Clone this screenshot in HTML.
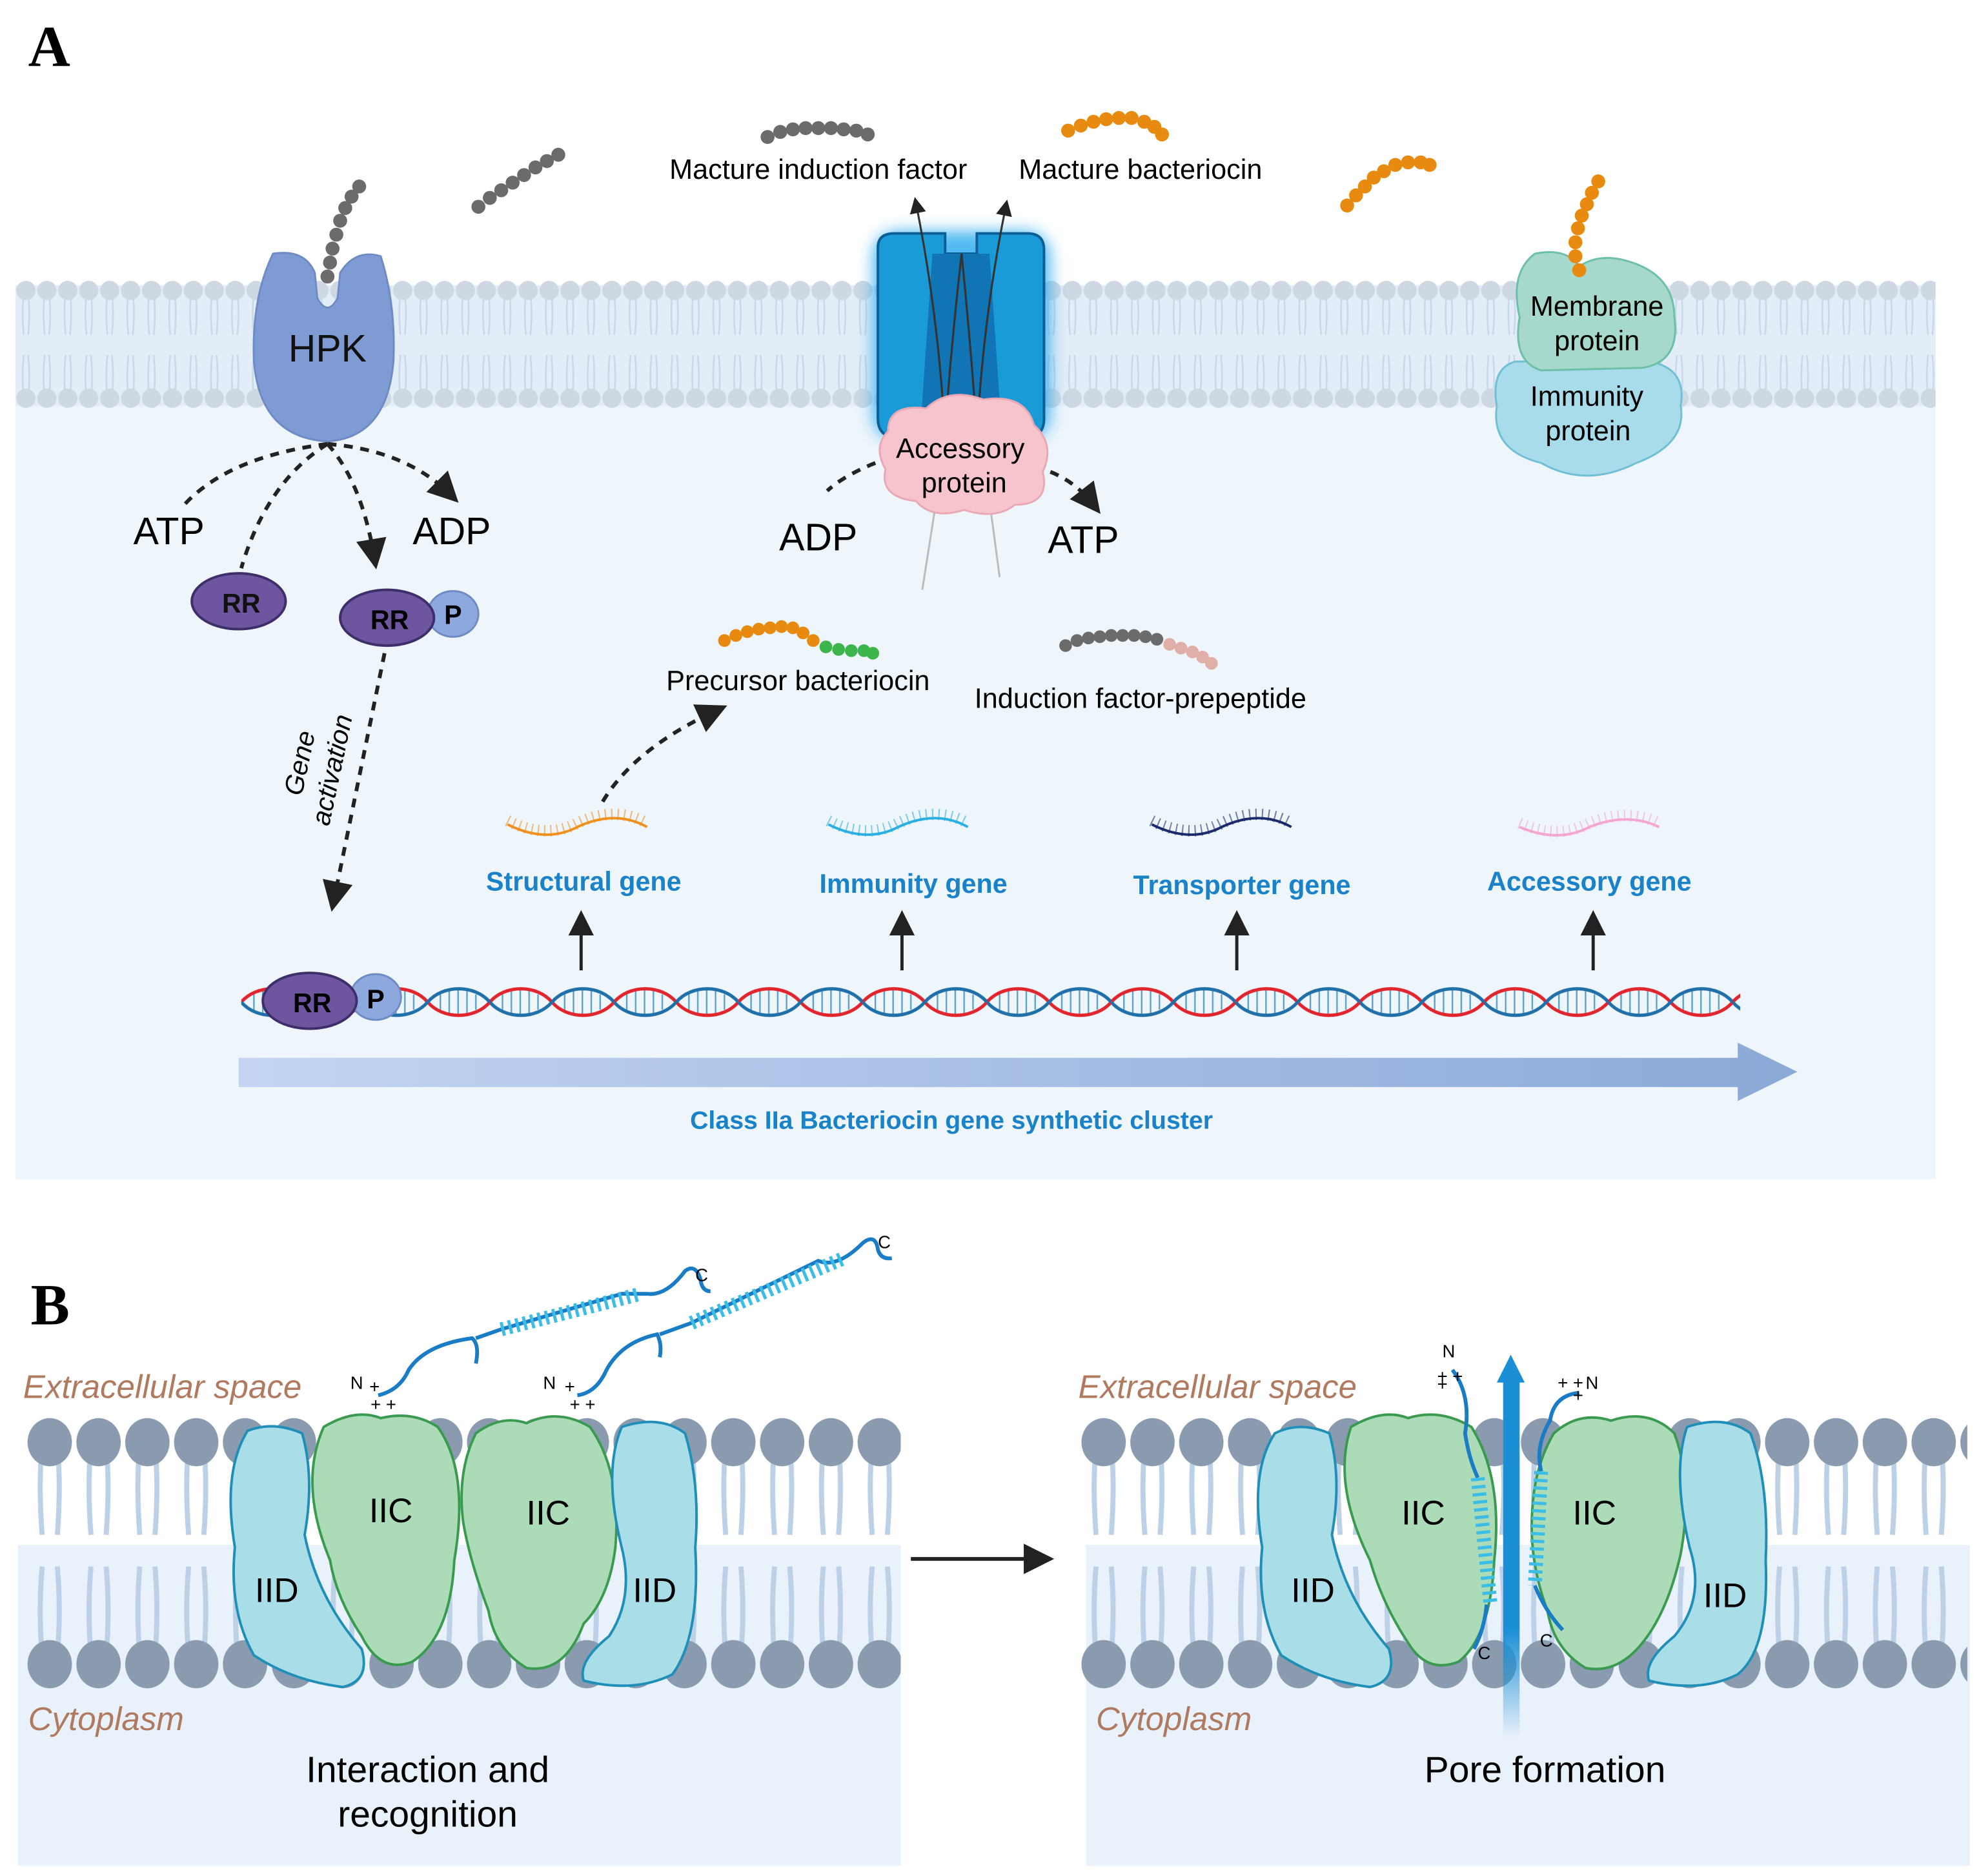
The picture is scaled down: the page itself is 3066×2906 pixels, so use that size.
<!DOCTYPE html>
<html><head><meta charset="utf-8"><style>
html,body{margin:0;padding:0;background:#fff}
svg{display:block}
text{font-family:"Liberation Sans",sans-serif}
</style></head><body>
<svg width="3066" height="2906" viewBox="0 0 1560 1479" xmlns="http://www.w3.org/2000/svg">
<defs>
<pattern id="memA" x="12" y="220" width="16.5" height="105" patternUnits="userSpaceOnUse">
<path d="M6 16 Q5 30 6.5 44 M10.5 16 Q11.5 30 10 44 M6.5 60 Q5 75 6 88 M10 60 Q11.5 75 10.5 88" stroke="#c9d8e8" stroke-width="1.3" fill="none"/>
<circle cx="8.25" cy="9" r="7.6" fill="#cdd8e3"/>
<circle cx="8.25" cy="94" r="7.6" fill="#cdd8e3"/>
</pattern>
<pattern id="memB" x="20" y="1110" width="38.5" height="230" patternUnits="userSpaceOnUse">
<path d="M13 30 Q10 60 13 100 M25 30 Q28 60 25 100 M13 125 Q10 160 13 195 M25 125 Q28 160 25 195" stroke="#bcd0e6" stroke-width="4" fill="none"/>
<ellipse cx="19" cy="27" rx="17.5" ry="19" fill="#8a9bb0"/>
<ellipse cx="19" cy="202" rx="17.5" ry="19" fill="#8a9bb0"/>
</pattern>
<pattern id="memB2" x="851" y="1110" width="38.5" height="230" patternUnits="userSpaceOnUse">
<path d="M13 30 Q10 60 13 100 M25 30 Q28 60 25 100 M13 125 Q10 160 13 195 M25 125 Q28 160 25 195" stroke="#bcd0e6" stroke-width="4" fill="none"/>
<ellipse cx="19" cy="27" rx="17.5" ry="19" fill="#8a9bb0"/>
<ellipse cx="19" cy="202" rx="17.5" ry="19" fill="#8a9bb0"/>
</pattern>
<pattern id="dna" x="190" y="770" width="98" height="40" patternUnits="userSpaceOnUse">
<g stroke="#5aa0c8" stroke-width="1.2"><line x1="10" y1="14" x2="10" y2="26"/><line x1="17" y1="11" x2="17" y2="29"/><line x1="24" y1="10" x2="24" y2="30"/><line x1="31" y1="11" x2="31" y2="29"/><line x1="38" y1="14" x2="38" y2="26"/><line x1="59" y1="14" x2="59" y2="26"/><line x1="66" y1="11" x2="66" y2="29"/><line x1="73" y1="10" x2="73" y2="30"/><line x1="80" y1="11" x2="80" y2="29"/><line x1="87" y1="14" x2="87" y2="26"/></g>
<path d="M0 20 C12 6 37 6 49 20 S86 34 98 20" stroke="#e2242c" stroke-width="2.6" fill="none"/>
<path d="M0 20 C12 34 37 34 49 20 S86 6 98 20" stroke="#1f6fa8" stroke-width="2.6" fill="none"/>
</pattern>
<linearGradient id="arr" x1="0" x2="1"><stop offset="0" stop-color="#c4d4f2"/><stop offset="1" stop-color="#8ba9d8"/></linearGradient>
<filter id="glow" x="-30%" y="-30%" width="160%" height="160%"><feGaussianBlur stdDeviation="6"/></filter>
<marker id="ah" markerWidth="8" markerHeight="8" refX="5" refY="4" orient="auto" markerUnits="strokeWidth"><path d="M0 0 L8 4 L0 8 Z" fill="#222"/></marker>
<linearGradient id="pore" x1="0" y1="1" x2="0" y2="0"><stop offset="0" stop-color="#1a8fd6" stop-opacity="0"/><stop offset="0.3" stop-color="#1a8fd6"/><stop offset="1" stop-color="#1a8fd6"/></linearGradient>
</defs>

<!-- Panel A -->
<text x="22" y="52" style="font-family:'Liberation Serif',serif;font-weight:bold;font-size:46px">A</text>
<rect x="12" y="230" width="1514" height="700" fill="#eef5fb"/>
<rect x="12" y="225" width="1514" height="95" fill="#e2edf7"/>
<rect x="12" y="220" width="1514" height="105" fill="url(#memA)"/>

<!-- HPK -->
<path d="M215 200 Q240 196 248 215 L250 235 Q258 250 266 235 L268 215 Q280 196 300 202 Q312 240 310 285 Q305 345 258 348 Q205 345 200 285 Q198 235 215 200Z" fill="#7f9bd3" stroke="#6f8bc4" stroke-width="1.5"/>
<text x="258" y="285" font-size="30" text-anchor="middle" fill="#111">HPK</text>
<g fill="#6b6b6b"><circle cx="258" cy="218" r="5.5"/><circle cx="260" cy="207" r="5.5"/><circle cx="262" cy="196" r="5.5"/><circle cx="265" cy="185" r="5.5"/><circle cx="268" cy="174" r="5.5"/><circle cx="272" cy="164" r="5.5"/><circle cx="277" cy="155" r="5.5"/><circle cx="283" cy="147" r="5.5"/></g>
<g fill="#6b6b6b"><circle cx="377" cy="163" r="5.5"/><circle cx="386" cy="156" r="5.5"/><circle cx="395" cy="150" r="5.5"/><circle cx="404" cy="144" r="5.5"/><circle cx="413" cy="138" r="5.5"/><circle cx="422" cy="132" r="5.5"/><circle cx="431" cy="127" r="5.5"/><circle cx="440" cy="122" r="5.5"/></g>

<g stroke="#222" stroke-width="3" stroke-dasharray="7 6" fill="none">
<path d="M258 350 Q180 360 145 398"/>
<path d="M258 350 Q210 380 190 448"/>
<path d="M258 350 Q285 380 295 440" marker-end="url(#ah)"/>
<path d="M258 350 Q320 355 355 390" marker-end="url(#ah)"/>
<path d="M303 515 L263 710" marker-end="url(#ah)"/>
<path d="M475 632 Q500 590 565 560" marker-end="url(#ah)"/>
<path d="M690 365 Q665 375 652 387"/>
<path d="M828 372 Q848 380 862 398" marker-end="url(#ah)"/>
</g>
<text x="133" y="429" font-size="30" text-anchor="middle">ATP</text>
<text x="356" y="429" font-size="30" text-anchor="middle">ADP</text>
<ellipse cx="188" cy="474" rx="37" ry="22" fill="#6e559f" stroke="#3e2f6b" stroke-width="2"/>
<text x="190" y="483" font-size="21" font-weight="bold" text-anchor="middle" fill="#111">RR</text>
<ellipse cx="357" cy="484" rx="20" ry="18" fill="#8da8dd" stroke="#6f8bc4" stroke-width="1.5"/>
<text x="357" y="492" font-size="21" font-weight="bold" text-anchor="middle">P</text>
<ellipse cx="305" cy="487" rx="37" ry="22" fill="#6e559f" stroke="#3e2f6b" stroke-width="2"/>
<text x="307" y="496" font-size="21" font-weight="bold" text-anchor="middle">RR</text>
<text transform="translate(243 603) rotate(-78)" font-size="21" font-style="italic" text-anchor="middle">Gene<tspan x="0" dy="26">activation</tspan></text>

<!-- transporter -->
<rect x="688" y="182" width="140" height="165" rx="20" fill="#27a9ef" filter="url(#glow)" opacity="0.8"/>
<path d="M692 195 Q692 184 705 184 L745 184 L745 200 L770 200 L770 184 L810 184 Q823 184 823 197 L823 330 Q823 345 808 345 L708 345 Q692 345 692 330Z" fill="#1a9bd8" stroke="#0c5f96" stroke-width="2"/>
<path d="M735 200 L780 200 L790 345 L725 345Z" fill="#1174b5"/>
<g stroke="#333" stroke-width="1.6" fill="none"><path d="M745 345 Q740 250 722 160" marker-end="url(#ah)"/><path d="M770 345 Q775 250 793 162" marker-end="url(#ah)"/><path d="M745 340 Q750 270 758 200"/><path d="M770 340 Q765 270 758 200"/></g>
<path d="M738 395 L727 465 M780 395 L788 455" stroke="#bbb" stroke-width="1.5"/>
<path d="M700 340 Q700 318 730 322 Q748 305 775 315 Q808 310 815 335 Q832 350 822 372 Q828 398 800 398 Q785 410 760 402 Q735 410 722 395 Q693 392 698 370 Q688 352 700 340Z" fill="#f6c4cd" stroke="#eaa8b5" stroke-width="1.5"/>
<text x="757" y="361" font-size="22" text-anchor="middle">Accessory</text>
<text x="760" y="388" font-size="22" text-anchor="middle">protein</text>
<text x="645" y="434" font-size="30" text-anchor="middle">ADP</text>
<text x="854" y="436" font-size="30" text-anchor="middle">ATP</text>

<g fill="#6b6b6b"><circle cx="605" cy="108" r="5.5"/><circle cx="615" cy="104" r="5.5"/><circle cx="625" cy="102" r="5.5"/><circle cx="635" cy="101" r="5.5"/><circle cx="645" cy="101" r="5.5"/><circle cx="655" cy="101" r="5.5"/><circle cx="665" cy="102" r="5.5"/><circle cx="675" cy="103" r="5.5"/><circle cx="684" cy="106" r="5.5"/></g>
<text x="645" y="141" font-size="22" text-anchor="middle">Macture induction factor</text>
<g fill="#e88a0f"><circle cx="842" cy="103" r="5.5"/><circle cx="852" cy="99" r="5.5"/><circle cx="862" cy="96" r="5.5"/><circle cx="872" cy="94" r="5.5"/><circle cx="882" cy="93" r="5.5"/><circle cx="892" cy="93" r="5.5"/><circle cx="902" cy="96" r="5.5"/><circle cx="910" cy="100" r="5.5"/><circle cx="916" cy="106" r="5.5"/></g>
<text x="899" y="141" font-size="22" text-anchor="middle">Macture bacteriocin</text>
<g fill="#e88a0f"><circle cx="1062" cy="162" r="5.5"/><circle cx="1069" cy="154" r="5.5"/><circle cx="1076" cy="147" r="5.5"/><circle cx="1083" cy="140" r="5.5"/><circle cx="1091" cy="135" r="5.5"/><circle cx="1100" cy="130" r="5.5"/><circle cx="1110" cy="128" r="5.5"/><circle cx="1120" cy="128" r="5.5"/><circle cx="1127" cy="130" r="5.5"/></g>

<!-- membrane/immunity protein -->
<path d="M1195 285 Q1175 290 1180 320 Q1175 355 1215 365 Q1250 385 1290 365 Q1330 350 1325 320 Q1330 290 1300 285Z" fill="#a8dcea" stroke="#6fbfd6" stroke-width="1.5"/>
<path d="M1210 200 Q1235 195 1245 210 Q1260 200 1280 205 Q1320 215 1320 250 Q1325 285 1295 290 L1215 292 Q1192 285 1198 250 Q1190 215 1210 200Z" fill="#a6d8cc" stroke="#6cbfa8" stroke-width="1.5"/>
<g fill="#e88a0f"><circle cx="1245" cy="213" r="5.5"/><circle cx="1242" cy="202" r="5.5"/><circle cx="1242" cy="191" r="5.5"/><circle cx="1244" cy="180" r="5.5"/><circle cx="1247" cy="170" r="5.5"/><circle cx="1251" cy="161" r="5.5"/><circle cx="1255" cy="152" r="5.5"/><circle cx="1260" cy="143" r="5.5"/></g>
<text x="1259" y="249" font-size="22" text-anchor="middle">Membrane</text>
<text x="1259" y="276" font-size="22" text-anchor="middle">protein</text>
<text x="1251" y="320" font-size="22" text-anchor="middle">Immunity</text>
<text x="1252" y="347" font-size="22" text-anchor="middle">protein</text>

<!-- precursors -->
<g fill="#e88a0f"><circle cx="571" cy="505" r="5"/><circle cx="580" cy="501" r="5"/><circle cx="589" cy="498" r="5"/><circle cx="598" cy="496" r="5"/><circle cx="607" cy="495" r="5"/><circle cx="616" cy="494" r="5"/><circle cx="625" cy="495" r="5"/><circle cx="633" cy="499" r="5"/><circle cx="641" cy="505" r="5"/></g>
<g fill="#3cb54a"><circle cx="651" cy="510" r="5"/><circle cx="661" cy="512" r="5"/><circle cx="671" cy="513" r="5"/><circle cx="681" cy="513" r="5"/><circle cx="688" cy="515" r="5"/></g>
<text x="629" y="544" font-size="22" text-anchor="middle">Precursor bacteriocin</text>
<g fill="#6b6b6b"><circle cx="840" cy="509" r="5"/><circle cx="849" cy="505" r="5"/><circle cx="858" cy="503" r="5"/><circle cx="867" cy="502" r="5"/><circle cx="876" cy="501" r="5"/><circle cx="885" cy="501" r="5"/><circle cx="894" cy="501" r="5"/><circle cx="903" cy="502" r="5"/><circle cx="912" cy="504" r="5"/></g>
<g fill="#e0b0a8"><circle cx="922" cy="508" r="5"/><circle cx="931" cy="511" r="5"/><circle cx="940" cy="514" r="5"/><circle cx="948" cy="518" r="5"/><circle cx="955" cy="523" r="5"/></g>
<text x="899" y="558" font-size="22" text-anchor="middle">Induction factor-prepeptide</text>

<!-- mRNAs -->
<g fill="none" stroke-width="2">
<path d="M400 650 Q430 665 455 652 Q485 638 510 652" stroke="#f0901c"/>
<path d="M400 650 Q430 665 455 652 Q485 638 510 652" stroke="#f0901c" stroke-dasharray="1 4" stroke-width="9" transform="translate(0 -3)" opacity="0.6"/>
<path d="M653 650 Q683 665 708 652 Q738 638 763 652" stroke="#2ab0e0"/>
<path d="M653 650 Q683 665 708 652 Q738 638 763 652" stroke="#2ab0e0" stroke-dasharray="1 4" stroke-width="9" transform="translate(0 -3)" opacity="0.6"/>
<path d="M908 650 Q938 665 963 652 Q993 638 1018 652" stroke="#1a2a6a"/>
<path d="M908 650 Q938 665 963 652 Q993 638 1018 652" stroke="#1a2a6a" stroke-dasharray="1 4" stroke-width="9" transform="translate(0 -3)" opacity="0.6"/>
<path d="M1198 652 Q1228 665 1253 652 Q1283 640 1308 652" stroke="#f4a6d0"/>
<path d="M1198 652 Q1228 665 1253 652 Q1283 640 1308 652" stroke="#f4a6d0" stroke-dasharray="1 4" stroke-width="9" transform="translate(0 -3)" opacity="0.6"/>
</g>
<g font-size="21" font-weight="bold" fill="#1a82c8" text-anchor="middle">
<text x="460" y="702">Structural gene</text>
<text x="720" y="704">Immunity gene</text>
<text x="979" y="705">Transporter gene</text>
<text x="1253" y="702">Accessory gene</text>
<text x="750" y="890" font-size="20">Class IIa Bacteriocin gene  synthetic cluster</text>
</g>
<g stroke="#222" stroke-width="2.5"><line x1="458" y1="765" x2="458" y2="725" marker-end="url(#ah)"/><line x1="711" y1="765" x2="711" y2="725" marker-end="url(#ah)"/><line x1="975" y1="765" x2="975" y2="725" marker-end="url(#ah)"/><line x1="1256" y1="765" x2="1256" y2="725" marker-end="url(#ah)"/></g>

<rect x="190" y="770" width="1182" height="40" fill="url(#dna)"/>
<ellipse cx="296" cy="786" rx="20" ry="18" fill="#8da8dd" stroke="#6f8bc4" stroke-width="1.5"/>
<text x="296" y="795" font-size="21" font-weight="bold" text-anchor="middle">P</text>
<ellipse cx="244" cy="789" rx="37" ry="22" fill="#6e559f" stroke="#3e2f6b" stroke-width="2"/>
<text x="246" y="798" font-size="21" font-weight="bold" text-anchor="middle">RR</text>
<path d="M188 834 L1370 834 L1370 822 L1417 845 L1370 868 L1370 857 L188 857Z" fill="url(#arr)"/>

<!-- Panel B -->
<text x="24" y="1044" style="font-family:'Liberation Serif',serif;font-weight:bold;font-size:46px">B</text>
<rect x="14" y="1218" width="696" height="253" fill="#e9f1fa"/>
<rect x="856" y="1218" width="697" height="253" fill="#e9f1fa"/>
<rect x="20" y="1110" width="690" height="230" fill="url(#memB)"/>
<rect x="851" y="1110" width="700" height="230" fill="url(#memB2)"/>
<text x="18" y="1102" font-size="26" font-style="italic" fill="#b07a60">Extracellular space</text>
<text x="22" y="1364" font-size="26" font-style="italic" fill="#b07a60">Cytoplasm</text>
<text x="850" y="1102" font-size="26" font-style="italic" fill="#b07a60">Extracellular space</text>
<text x="864" y="1364" font-size="26" font-style="italic" fill="#b07a60">Cytoplasm</text>
<text x="337" y="1405" font-size="29" text-anchor="middle">Interaction and</text>
<text x="337" y="1440" font-size="29" text-anchor="middle">recognition</text>
<text x="1218" y="1405" font-size="29" text-anchor="middle">Pore formation</text>
<line x1="718" y1="1229" x2="822" y2="1229" stroke="#222" stroke-width="3" marker-end="url(#ah)"/>

<!-- left proteins -->
<g stroke-width="2">
<path d="M195 1128 Q215 1120 238 1130 Q248 1165 240 1210 Q250 1260 285 1300 Q292 1325 270 1330 Q230 1325 200 1305 Q180 1270 185 1220 Q175 1160 195 1128Z" fill="#a9dde8" stroke="#1f8fb8"/>
<path d="M255 1125 Q280 1110 300 1118 Q325 1112 345 1125 Q370 1160 358 1230 Q355 1290 325 1310 Q300 1320 285 1290 Q265 1260 260 1230 Q235 1170 255 1125Z" fill="#acdcb7" stroke="#3a9a50"/>
<path d="M375 1130 Q395 1115 415 1122 Q440 1110 465 1125 Q490 1160 485 1220 Q480 1260 460 1280 Q445 1320 415 1315 Q390 1300 385 1270 Q370 1230 365 1200 Q360 1160 375 1130Z" fill="#acdcb7" stroke="#3a9a50"/>
<path d="M490 1125 Q520 1115 540 1130 Q552 1170 548 1220 Q552 1290 530 1320 Q500 1335 460 1325 Q455 1310 480 1290 Q500 1260 490 1220 Q475 1160 490 1125Z" fill="#a9dde8" stroke="#1f8fb8"/>
</g>
<g font-size="27" text-anchor="middle"><text x="218" y="1263">IID</text><text x="308" y="1200">IIC</text><text x="432" y="1202">IIC</text><text x="516" y="1263">IID</text></g>
<g fill="none" stroke="#1a7cc4" stroke-width="3">
<path d="M298 1100 Q315 1096 322 1080 Q335 1060 372 1055 Q378 1060 375 1075"/>
<path d="M375 1055 L395 1048 L490 1020 L510 1020 Q525 1022 540 1002 Q548 996 552 1008 Q553 1018 560 1018"/>
<path d="M455 1100 Q470 1098 478 1080 Q490 1058 518 1052 Q522 1060 520 1070"/>
<path d="M520 1052 L545 1043 L645 994 Q660 1000 680 980 Q690 972 692 985 Q694 993 703 992"/>
</g>
<g fill="none" stroke="#3cbde5" stroke-width="11" stroke-dasharray="2.5 3.5"><path d="M395 1048 L505 1020"/><path d="M545 1043 L665 992"/></g>
<g font-size="14"><text x="276" y="1095">N</text><text x="428" y="1095">N</text><text x="548" y="1010">C</text><text x="692" y="984">C</text><text x="291" y="1098">+</text><text x="292" y="1112">+ +</text><text x="445" y="1098">+</text><text x="449" y="1112">+ +</text></g>

<!-- right proteins -->
<g stroke-width="2">
<path d="M1005 1130 Q1025 1120 1048 1130 Q1058 1165 1050 1210 Q1060 1260 1095 1300 Q1102 1325 1080 1330 Q1040 1325 1010 1305 Q990 1270 995 1220 Q985 1160 1005 1130Z" fill="#a9dde8" stroke="#1f8fb8"/>
<path d="M1065 1125 Q1090 1110 1110 1118 Q1135 1110 1160 1125 Q1185 1165 1178 1230 Q1175 1290 1150 1310 Q1125 1320 1110 1295 Q1090 1265 1080 1230 Q1050 1170 1065 1125Z" fill="#acdcb7" stroke="#3a9a50"/>
<path d="M1225 1130 Q1245 1112 1270 1120 Q1300 1110 1320 1130 Q1335 1170 1325 1225 Q1315 1270 1295 1295 Q1275 1320 1250 1315 Q1225 1300 1220 1270 Q1205 1230 1208 1190 Q1210 1155 1225 1130Z" fill="#acdcb7" stroke="#3a9a50"/>
<path d="M1330 1125 Q1360 1115 1380 1130 Q1395 1170 1392 1230 Q1395 1300 1370 1320 Q1340 1335 1300 1325 Q1295 1310 1320 1290 Q1345 1260 1332 1220 Q1318 1160 1330 1125Z" fill="#a9dde8" stroke="#1f8fb8"/>
</g>
<g font-size="27" text-anchor="middle"><text x="1035" y="1263">IID</text><text x="1122" y="1202">IIC</text><text x="1257" y="1202">IIC</text><text x="1360" y="1267">IID</text></g>
<rect x="1185" y="1085" width="13" height="285" fill="url(#pore)"/>
<path d="M1180 1090 L1191 1068 L1202 1090Z" fill="#1a8fd6"/>
<g fill="none" stroke="#1a7cc4" stroke-width="3">
<path d="M1145 1080 Q1160 1100 1155 1130 Q1158 1150 1165 1165"/>
<path d="M1172 1265 Q1170 1285 1162 1300"/>
<path d="M1245 1098 Q1225 1100 1222 1120 Q1210 1140 1215 1160"/>
<path d="M1210 1250 Q1218 1270 1232 1285"/>
</g>
<g fill="none" stroke="#3cbde5" stroke-width="11" stroke-dasharray="2.5 3.5"><path d="M1165 1165 L1175 1265"/><path d="M1215 1160 L1210 1250"/></g>
<g font-size="14"><text x="1137" y="1070">N</text><text x="1250" y="1095">N</text><text x="1165" y="1308">C</text><text x="1214" y="1298">C</text><text x="1133" y="1090">+ +</text><text x="1228" y="1095">+ +</text><text x="1240" y="1105">+</text><text x="1133" y="1096">+</text></g>
</svg>
</body></html>
